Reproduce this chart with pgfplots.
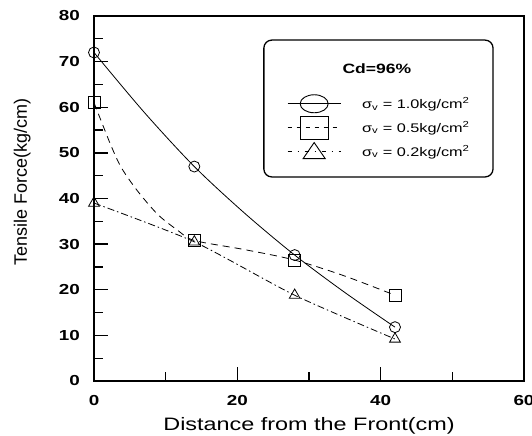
\documentclass[border=0pt]{standalone}
\usepackage{fontspec}
\setmainfont{Liberation Sans}[FakeStretch=1.3]
\newfontfamily\plainfont{Liberation Sans}
\usepackage{pgfplots}
\usepackage{pgfplotstable}
\pgfplotsset{compat=1.18}
\usetikzlibrary{calc}

\pgfplotstableread{
x y
0 72
14 47
28 27.6
42 11.8
}\circdata
\pgfplotstableread{
x y
0 72
7 58.9
14 47
21 36.8
28 27.6
35 19.4
42 11.8
}\circcurve
\pgfplotstableread{
x y
0 61
14 30.8
28 26.5
42 18.8
}\sqdata
\pgfplotstableread{
x y
0 39
14 30.5
28 18.8
42 9.2
}\tridata
\pgfplotstableread{
x y
0 61
1.2 56.2
2.4 51.5
3.8 46.8
6 41.8
8.9 36.5
11.7 33
14 30.8
21 28.8
28 26.5
35 23.0
42 18.8
}\sqcurve

\begin{document}
\begin{tikzpicture}
\begin{axis}[name=ax, scale only axis, width=430pt, height=365pt,
  xmin=0, xmax=60, ymin=0, ymax=80,
  xtick={0,20,40,60}, ytick={0,10,...,80},
  minor x tick num=1, minor y tick num=1,
  tick align=inside, xtick pos=lower, ytick pos=lower,
  major tick length=14pt, minor tick length=9pt,
  axis line style={line width=1.6pt},
  tick style={line width=1.3pt, black},
  tick label style={font=\bfseries\fontsize{14.5}{14.5}\selectfont},
  /pgf/number format/assume math mode=true,
  yticklabel style={inner sep=0pt, xshift=-14pt},
  xticklabel style={inner sep=0pt, yshift=-14pt},
  clip=false,
  xlabel={Distance from the Front(cm)},
  ylabel={Tensile Force(kg/cm)},
  xlabel style={at={(axis description cs:0.5,-0.123)}, anchor=center, font=\fontsize{18}{18}\selectfont},
  ylabel style={at={(axis description cs:-0.167,0.545)}, anchor=center, font=\plainfont\fontsize{18}{18}\selectfont},
  legend style={draw=none, fill=none, at={(rel axis cs:0.449,0.786)}, anchor=north west,
    inner sep=0pt, row sep=2.5pt, column sep=20pt, font=\fontsize{12.5}{14}\selectfont,
    nodes={inner sep=1pt}},
  legend cell align=left,
]
% curves
\addplot[black, line width=0.8pt, smooth, tension=0.5, forget plot] table {\circcurve};
\addplot[black, line width=0.8pt, smooth, tension=0.5, dash pattern=on 7pt off 5pt, forget plot] table {\sqcurve};
\addplot[black, line width=0.8pt, smooth, tension=0.4, dash pattern=on 7pt off 3pt on 1.5pt off 3pt, forget plot] table {\tridata};
% markers
\addplot[black, only marks, mark=o, mark size=5.5pt, line width=0.8pt, forget plot] table {\circdata};
\addplot[black, only marks, mark=square, mark size=6pt, line width=0.8pt, forget plot] table {\sqdata};
\addplot[black, only marks, mark=triangle, mark size=6.2pt, line width=0.8pt, forget plot] table {\tridata};
% legend
\addlegendimage{legend image code/.code={
  \draw[black, line width=0.8pt] (0pt,0pt) -- (53pt,0pt);
  \draw[black, line width=0.9pt] (26.5pt,0pt) ellipse[x radius=14pt, y radius=9pt];}}
\addlegendentry{σ\textsubscript{v} = 1.0kg/cm\textsuperscript{2}}
\addlegendimage{legend image code/.code={
  \draw[black, line width=0.8pt, dash pattern=on 4pt off 5pt] (0pt,0pt) -- (53pt,0pt);
  \draw[black, line width=0.9pt] (12.5pt,-11.5pt) rectangle (40.5pt,11.5pt);}}
\addlegendentry{σ\textsubscript{v} = 0.5kg/cm\textsuperscript{2}}
\addlegendimage{legend image code/.code={
  \draw[black, line width=0.8pt, dash pattern=on 4pt off 6pt on 1pt off 6pt] (0pt,0pt) -- (53pt,0pt);
  \draw[black, line width=0.9pt] (15.5pt,-7pt) -- (37.5pt,-7pt) -- (26.5pt,9pt) -- cycle;}}
\addlegendentry{σ\textsubscript{v} = 0.2kg/cm\textsuperscript{2}}
\draw[line width=1.3pt, rounded corners=8pt] (rel axis cs:0.395,0.559) rectangle (rel axis cs:0.928,0.934);
\node[font=\bfseries\fontsize{13.5}{14}\selectfont] at (rel axis cs:0.658,0.855) {Cd=96\%};
\end{axis}
\pgfresetboundingbox
\path ($(ax.south west)+(-94pt,-55pt)$) rectangle ($(ax.north east)+(8pt,16pt)$);
\end{tikzpicture}
\end{document}
